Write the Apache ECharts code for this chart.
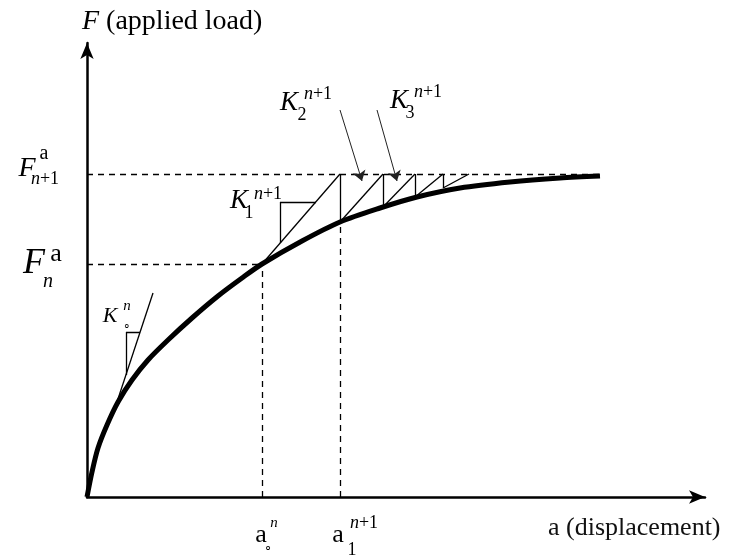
<!DOCTYPE html>
<html>
<head>
<meta charset="utf-8">
<script src="https://cdn.jsdelivr.net/npm/echarts@6/dist/echarts.min.js"></script>
<style>
  html, body { margin: 0; padding: 0; background: #fff; }
  #main { width: 735px; height: 557px; }
</style>
</head>
<body>
<div id="main"></div>
<script>
// schematic units: displacement / load (1 unit ~ 1 px on screen)
const axisMaxX = 618;
const axisMaxY = 454;

// load-displacement curve
const curveX = [0, 5, 11, 20, 31, 45, 61, 81, 105, 131, 155, 175, 215, 253, 293, 330, 373, 423, 473, 513];
const curveY = [0, 25, 49, 72, 95, 117, 137, 157, 179, 201, 219, 233, 256, 275, 289, 300, 309, 315, 319, 321];

// load levels and displacements
const Fn = 233, Fn1 = 323;
const an = 175, a1 = 253;
const dashEnd = 513;

// tangent K_o^n and its slope triangle
const koTangent = [[28, 89], [66, 204]];
const koTriangle = { x: 39, top: 165, bottom: 122, right: 53 };

// tangent K_1^{n+1} slope triangle
const k1Triangle = { x: 193, top: 295, bottom: 254, right: 229 };

// staircase of iterations at F_{n+1}
const stepX = [253, 296, 328, 356, 382];
const stepBottom = [275, 290, 300, 309];

// pointer arrows for K_2 and K_3
const arrowStart = [[253, 387], [290, 387]];
const arrowEnd = [[275, 316], [310, 316]];

const FONT = 'Liberation Serif';

const dashed = [
    [[0, Fn1], [dashEnd, Fn1]],
    [[0, Fn], [an, Fn]],
    [[an, 0], [an, Fn]],
    [[a1, 0], [a1, stepBottom[0]]]
];

const solid = [
    koTangent,
    [[koTriangle.x, koTriangle.top], [koTriangle.x, koTriangle.bottom]],
    [[koTriangle.x, koTriangle.top], [koTriangle.right, koTriangle.top]],
    [[an, Fn], [a1, Fn1]],
    [[k1Triangle.x, k1Triangle.top], [k1Triangle.x, k1Triangle.bottom]],
    [[k1Triangle.x, k1Triangle.top], [k1Triangle.right, k1Triangle.top]]
];
for (let i = 0; i < stepBottom.length; i++) {
    solid.push([[stepX[i], Fn1], [stepX[i], stepBottom[i]]]);
    solid.push([[stepX[i], stepBottom[i]], [stepX[i + 1], Fn1]]);
}

const arrows = arrowStart.map((s, i) => [s, arrowEnd[i]]);

const chart = echarts.init(document.getElementById('main'));

const axisCommon = {
    type: 'value',
    min: 0,
    axisLine: {
        show: true,
        onZero: false,
        symbol: ['none', 'arrow'],
        symbolSize: [10, 16],
        lineStyle: { color: '#000', width: 2.5 }
    },
    axisTick: { show: false },
    axisLabel: { show: false },
    splitLine: { show: false }
};

chart.setOption({
    animation: false,
    backgroundColor: '#fff',
    grid: { left: 87, right: 30, top: 43, bottom: 60 },
    xAxis: Object.assign({}, axisCommon, { max: axisMaxX }),
    yAxis: Object.assign({}, axisCommon, { max: axisMaxY }),
    series: [
        {
            type: 'lines',
            coordinateSystem: 'cartesian2d',
            silent: true,
            data: dashed.map(c => ({ coords: c })),
            lineStyle: { color: '#000', width: 1.3, type: [6, 5], opacity: 1 }
        },
        {
            type: 'lines',
            coordinateSystem: 'cartesian2d',
            silent: true,
            data: solid.map(c => ({ coords: c })),
            lineStyle: { color: '#000', width: 1.3, opacity: 1 }
        },
        {
            type: 'lines',
            coordinateSystem: 'cartesian2d',
            silent: true,
            symbol: ['none', 'arrow'],
            symbolSize: 10,
            data: arrows.map(c => ({ coords: c })),
            lineStyle: { color: '#222', width: 1, opacity: 1 }
        },
        {
            type: 'line',
            data: curveX.map((x, i) => [x, curveY[i]]),
            smooth: 0.3,
            symbol: 'none',
            silent: true,
            lineStyle: { color: '#000', width: 5 }
        }
    ]
});

// math-style labels: F, K, n italic; everything else upright
function mathText(str, size) {
    let text = '';
    for (const ch of str) {
        text += /[FKn]/.test(ch) ? '{i|' + ch + '}' : '{r|' + ch + '}';
    }
    return {
        text: text,
        rich: {
            i: { fontFamily: FONT, fontSize: size, fontStyle: 'italic', color: '#111' },
            r: { fontFamily: FONT, fontSize: size, color: '#111' }
        }
    };
}

// [text, fontSize, dx, dy] relative to the pixel of "at"
const labels = [
    { at: [0, Fn1], parts: [['F', 28, -60, -5], ['a', 20, -43, -20], ['n+1', 18, -42, 5]] },
    { at: [0, Fn], parts: [['F', 36, -53, 0], ['a', 26, -31, -10], ['n', 20, -39, 18]] },
    { at: [an, 0], parts: [['a', 26, -1, 38], ['n', 15, 12, 26], ['\u2218', 13, 6, 51]] },
    { at: [a1, 0], parts: [['a', 26, -2, 38], ['n+1', 18, 24, 26], ['1', 18, 12, 53]] },
    { at: [koTriangle.x, koTriangle.top], parts: [['K', 22, -16, -16], ['n', 15, 1, -26], ['\u2218', 12, 1, -5]] },
    { at: [k1Triangle.x, k1Triangle.top], parts: [['K', 27, -41, -1], ['n+1', 18, -12, -8], ['1', 18, -31, 11]] },
    { at: arrowStart[0], parts: [['K', 27, -51, -7], ['n+1', 18, -22, -16], ['2', 18, -38, 5]] },
    { at: arrowStart[1], parts: [['K', 27, 22, -9], ['n+1', 18, 51, -18], ['3', 18, 33, 3]] }
];

const graphic = [];
labels.forEach(l => {
    const p = chart.convertToPixel({ gridIndex: 0 }, l.at);
    l.parts.forEach(([t, size, dx, dy]) => {
        const m = mathText(t, size);
        graphic.push({
            type: 'text',
            x: p[0] + dx,
            y: p[1] + dy,
            style: {
                text: m.text,
                rich: m.rich,
                fontFamily: FONT,
                fontSize: size,
                align: 'center',
                verticalAlign: 'middle'
            }
        });
    });
});

// axis titles
const yTop = chart.convertToPixel({ gridIndex: 0 }, [0, axisMaxY]);
const xEnd = chart.convertToPixel({ gridIndex: 0 }, [axisMaxX, 0]);
const yTitle = mathText('F', 28);
graphic.push({
    type: 'text',
    x: yTop[0] - 5,
    y: yTop[1] - 21,
    style: {
        text: yTitle.text + '{r| (applied load)}',
        rich: yTitle.rich,
        fontFamily: FONT,
        fontSize: 28,
        align: 'left',
        verticalAlign: 'middle'
    }
});
graphic.push({
    type: 'text',
    x: xEnd[0] - 157,
    y: xEnd[1] + 31,
    style: {
        text: 'a (displacement)',
        fontFamily: FONT,
        fontSize: 26,
        fill: '#111',
        align: 'left',
        verticalAlign: 'middle'
    }
});

chart.setOption({ graphic: graphic });

window.addEventListener('resize', () => chart.resize());
</script>
</body>
</html>
